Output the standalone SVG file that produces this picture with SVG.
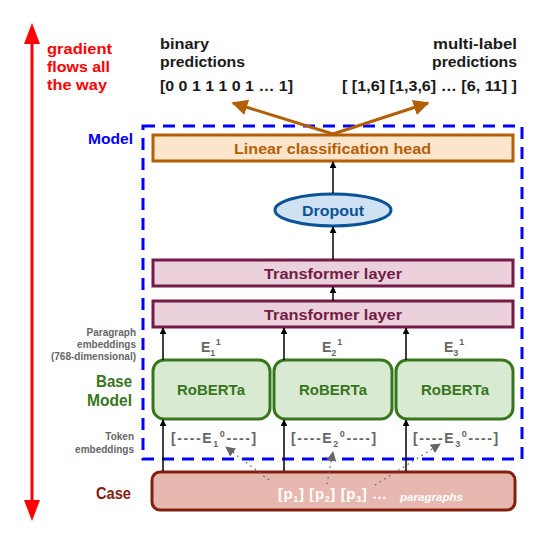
<svg xmlns="http://www.w3.org/2000/svg" width="554" height="546" viewBox="0 0 554 546">
<defs>
<style>
text{font-family:"Liberation Sans",Arial,sans-serif;font-weight:bold}
.blk{fill:#1a1a1a;font-size:15px}
.gray{fill:#666;font-size:14px}
.lbl{fill:#666;font-size:10px;text-anchor:end}
.conn{stroke:#000;stroke-width:1.5;fill:none}
.box-t{fill:#ead1dc;stroke:#741b47;stroke-width:3}
.box-r{fill:#d9ead3;stroke:#38761d;stroke-width:3}
</style>
<marker id="ah" viewBox="0 0 10 10" refX="9" refY="5" markerWidth="7" markerHeight="7" markerUnits="userSpaceOnUse" orient="auto"><path d="M0,0L10,5L0,10z" fill="#000"/></marker>
<marker id="ahg" viewBox="0 0 10 10" refX="9" refY="5" markerWidth="10" markerHeight="10" markerUnits="userSpaceOnUse" orient="auto"><path d="M0,0L10,5L0,10z" fill="#666"/></marker>
<marker id="aho" viewBox="0 0 10 10" refX="9" refY="5" markerWidth="16" markerHeight="16" markerUnits="userSpaceOnUse" orient="auto"><path d="M0,0L10,5L0,10z" fill="#b45f06"/></marker>
</defs>
<rect width="554" height="546" fill="#fff"/>

<g id="gradient">
<line x1="32" y1="505" x2="32" y2="40" stroke="#f00" stroke-width="3"/>
<path d="M32,23L24,44L40,44z" fill="#f00"/>
<path d="M32,521L24,500L40,500z" fill="#f00"/>
<text x="47" y="54" fill="#f00" font-size="15" textLength="65" lengthAdjust="spacingAndGlyphs">gradient</text>
<text x="47" y="72" fill="#f00" font-size="15" textLength="63" lengthAdjust="spacingAndGlyphs">flows all</text>
<text x="47" y="90" fill="#f00" font-size="15" textLength="60" lengthAdjust="spacingAndGlyphs">the way</text>
</g>

<g id="outputs">
<text class="blk" x="160" y="49" textLength="49" lengthAdjust="spacingAndGlyphs">binary</text>
<text class="blk" x="160" y="67" textLength="85" lengthAdjust="spacingAndGlyphs">predictions</text>
<text class="blk" x="160" y="91" textLength="133" lengthAdjust="spacingAndGlyphs">[0 0 1 1 1 0 1 … 1]</text>
<text class="blk" x="433" y="49" textLength="84" lengthAdjust="spacingAndGlyphs">multi-label</text>
<text class="blk" x="432" y="67" textLength="85" lengthAdjust="spacingAndGlyphs">predictions</text>
<text class="blk" x="342" y="91" textLength="175" lengthAdjust="spacingAndGlyphs">[ [1,6] [1,3,6] … [6, 11] ]</text>
</g>

<g id="model-frame">
<rect x="143" y="126" width="379" height="333" fill="none" stroke="#00f" stroke-width="3" stroke-dasharray="12 8"/>
<text x="88" y="144" fill="#00f" font-size="15" textLength="45" lengthAdjust="spacingAndGlyphs">Model</text>
</g>

<g id="left-labels">
<text class="lbl" x="136" y="336">Paragraph</text>
<text class="lbl" x="136" y="348">embeddings</text>
<text class="lbl" x="136" y="360">(768-dimensional)</text>
<text x="96" y="387" fill="#38761d" font-size="16" textLength="36" lengthAdjust="spacingAndGlyphs">Base</text>
<text x="87" y="406" fill="#38761d" font-size="16" textLength="45" lengthAdjust="spacingAndGlyphs">Model</text>
<text class="lbl" x="134" y="440">Token</text>
<text class="lbl" x="134" y="453">embeddings</text>
<text x="96" y="499" fill="#85200c" font-size="16" textLength="35" lengthAdjust="spacingAndGlyphs">Case</text>
</g>

<g id="head">
<rect x="153" y="135" width="360" height="26" fill="#fce5cd" stroke="#b45f06" stroke-width="3"/>
<text x="234" y="154" fill="#b45f06" font-size="14.5" textLength="197" lengthAdjust="spacingAndGlyphs">Linear classification head</text>
</g>

<g id="dropout">
<ellipse cx="333" cy="210" rx="58" ry="16" fill="#cfe2f3" stroke="#0b5394" stroke-width="3"/>
<text x="302" y="215.5" fill="#0b5394" font-size="14.5" textLength="62" lengthAdjust="spacingAndGlyphs">Dropout</text>
</g>

<g id="transformer2">
<rect class="box-t" x="153" y="260" width="360" height="26"/>
<text x="264" y="278.5" fill="#741b47" font-size="14.5" textLength="138" lengthAdjust="spacingAndGlyphs">Transformer layer</text>
</g>

<g id="transformer1">
<rect class="box-t" x="153" y="301" width="360" height="26"/>
<text x="264" y="319.5" fill="#741b47" font-size="14.5" textLength="138" lengthAdjust="spacingAndGlyphs">Transformer layer</text>
</g>

<g id="paragraph-embeddings">
<text class="gray" x="201" y="352" font-size="15">E<tspan font-size="9" dy="4">1</tspan><tspan font-size="9" dx="1" dy="-11">1</tspan></text>
<text class="gray" x="322" y="352" font-size="15">E<tspan font-size="9" dy="4">2</tspan><tspan font-size="9" dx="1" dy="-11">1</tspan></text>
<text class="gray" x="444" y="352" font-size="15">E<tspan font-size="9" dy="4">3</tspan><tspan font-size="9" dx="1" dy="-11">1</tspan></text>
</g>

<g id="roberta1">
<rect class="box-r" x="153" y="360" width="117" height="59" rx="11"/>
<text x="177" y="395" fill="#38761d" font-size="15" textLength="68" lengthAdjust="spacingAndGlyphs">RoBERTa</text>
</g>
<g id="roberta2">
<rect class="box-r" x="274" y="360" width="118" height="59" rx="11"/>
<text x="299" y="395" fill="#38761d" font-size="15" textLength="68" lengthAdjust="spacingAndGlyphs">RoBERTa</text>
</g>
<g id="roberta3">
<rect class="box-r" x="396" y="360" width="117" height="59" rx="11"/>
<text x="421" y="395" fill="#38761d" font-size="15" textLength="68" lengthAdjust="spacingAndGlyphs">RoBERTa</text>
</g>

<g id="token-embeddings" letter-spacing="1.6">
<text class="gray" x="171" y="443">[----E<tspan font-size="9" dy="4">1</tspan><tspan font-size="9" dy="-10">0</tspan><tspan dy="6">----]</tspan></text>
<text class="gray" x="291" y="443">[----E<tspan font-size="9" dy="4">2</tspan><tspan font-size="9" dy="-10">0</tspan><tspan dy="6">----]</tspan></text>
<text class="gray" x="413" y="443">[----E<tspan font-size="9" dy="4">3</tspan><tspan font-size="9" dy="-10">0</tspan><tspan dy="6">----]</tspan></text>
</g>

<g id="case">
<rect x="152" y="472" width="363" height="38" rx="8" fill="#e6b8af" stroke="#85200c" stroke-width="3"/>
<text x="278" y="499" fill="#fff" font-size="15" letter-spacing="0.6">[p<tspan font-size="9" dy="3">1</tspan><tspan dy="-3">] [p</tspan><tspan font-size="9" dy="3">2</tspan><tspan dy="-3">] [p</tspan><tspan font-size="9" dy="3">3</tspan><tspan dy="-3">] …</tspan></text>
<text x="400" y="501" fill="#fff" font-size="10.5" font-style="italic" textLength="63" lengthAdjust="spacingAndGlyphs">paragraphs</text>
</g>

<g id="connectors">
<line class="conn" x1="333" y1="193" x2="333" y2="162" marker-end="url(#ah)"/>
<line class="conn" x1="333" y1="260" x2="333" y2="227" marker-end="url(#ah)"/>
<line class="conn" x1="333" y1="301" x2="333" y2="287" marker-end="url(#ah)"/>
<line class="conn" x1="163" y1="360" x2="163" y2="328" marker-end="url(#ah)"/>
<line class="conn" x1="284" y1="360" x2="284" y2="328" marker-end="url(#ah)"/>
<line class="conn" x1="406" y1="360" x2="406" y2="328" marker-end="url(#ah)"/>
<line class="conn" x1="163" y1="471" x2="163" y2="420" marker-end="url(#ah)"/>
<line class="conn" x1="284" y1="471" x2="284" y2="420" marker-end="url(#ah)"/>
<line class="conn" x1="406" y1="471" x2="406" y2="420" marker-end="url(#ah)"/>
<line x1="333" y1="134" x2="233" y2="103" stroke="#b45f06" stroke-width="3" marker-end="url(#aho)"/>
<line x1="333" y1="134" x2="428" y2="103" stroke="#b45f06" stroke-width="3" marker-end="url(#aho)"/>
<line x1="269" y1="480" x2="226" y2="447" stroke="#666" stroke-width="1.3" stroke-dasharray="1.5 4" marker-end="url(#ahg)"/>
<line x1="327" y1="484" x2="333" y2="452" stroke="#666" stroke-width="1.3" stroke-dasharray="1.5 4" marker-end="url(#ahg)"/>
<line x1="375" y1="485" x2="440" y2="444" stroke="#666" stroke-width="1.3" stroke-dasharray="1.5 4" marker-end="url(#ahg)"/>
</g>
</svg>
